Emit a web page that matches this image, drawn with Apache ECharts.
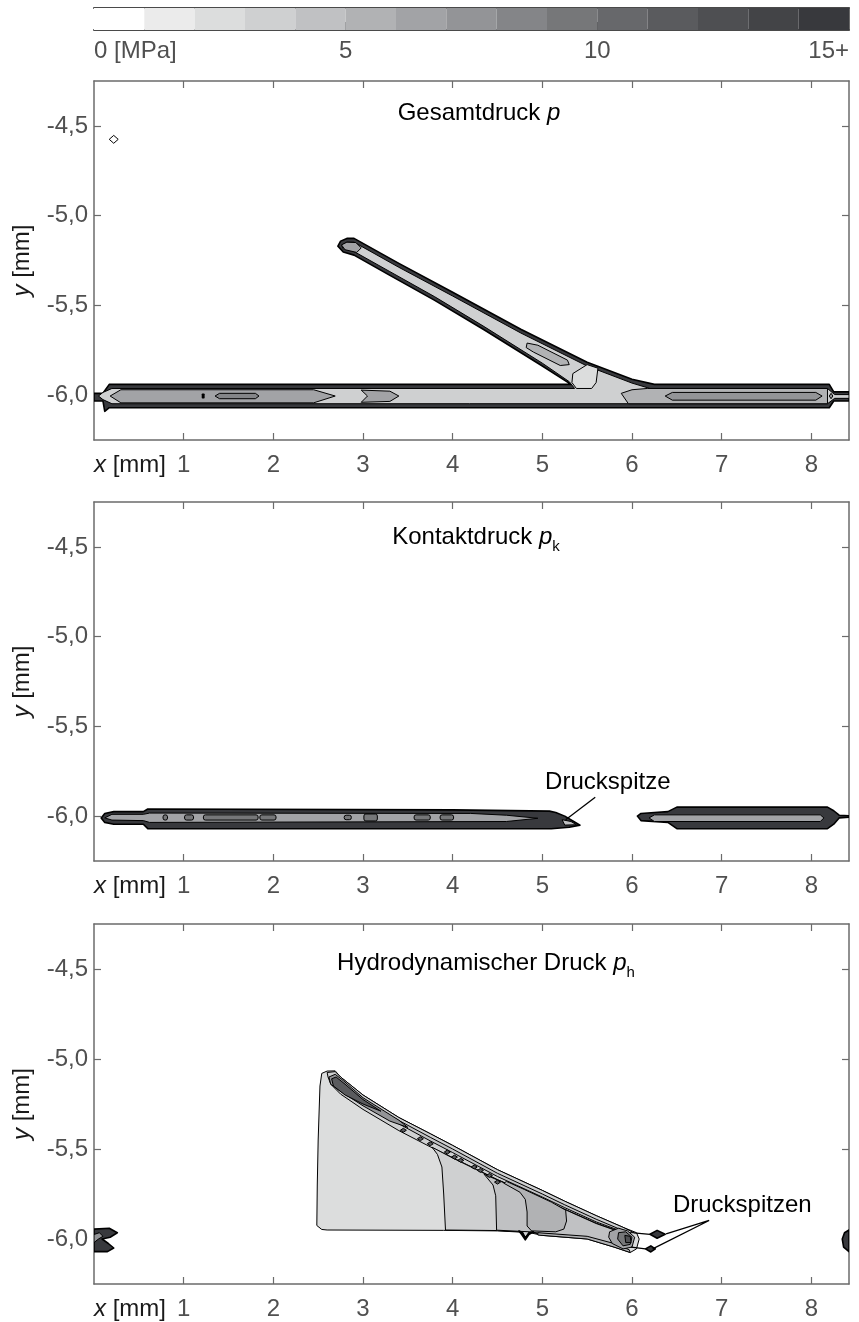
<!DOCTYPE html>
<html>
<head>
<meta charset="utf-8">
<script src="https://cdn.jsdelivr.net/npm/echarts@6/dist/echarts.min.js"></script>
<style>
  html, body { margin: 0; padding: 0; background: #fff; }
  #chart { width: 859px; height: 1322px; }
</style>
</head>
<body>
<div id="chart"></div>
<script>
// grey scale of the colour bar, one step per MPa (0 ... 15+)
var greys = ['#ffffff', '#ebebeb', '#dcdddd', '#cfd0d1', '#c0c1c3', '#b1b2b4', '#a2a3a6', '#939497',
             '#848588', '#767779', '#67686b', '#5a5b5e', '#4e4f52', '#434447', '#38393d'];
var cbTicks = [0, 5, 10, 15];
var xTicks = [0, 1, 2, 3, 4, 5, 6, 7, 8];
var yTicks = [-6, -5.5, -5, -4.5];

// ---- Gesamtdruck p (contour outlines in mm, level = MPa step)
var p1Dot = [[0.17, -4.575], [0.22, -4.553], [0.27, -4.575], [0.22, -4.597]];
var p1Rim = [[0.0, -5.99], [0.1, -5.99], [0.17, -5.94], [5.32, -5.94], [5.0, -5.838], [4.35, -5.636],
  [3.8, -5.472], [3.3, -5.333], [2.9, -5.22], [2.78, -5.203], [2.72, -5.17], [2.75, -5.142], [2.82, -5.127],
  [2.9, -5.127], [3.4, -5.266], [4.0, -5.427], [4.76, -5.633], [5.5, -5.817], [6.0, -5.912], [6.25, -5.94],
  [8.2, -5.94], [8.25, -5.982], [8.42, -5.982], [8.42, -6.033], [8.25, -6.033], [8.2, -6.07],
  [0.17, -6.07], [0.12, -6.09], [0.1, -6.033], [0.0, -6.033]];
var p1Inner = [[0.05, -6.005], [0.1, -5.985], [0.2, -5.963], [5.36, -5.963], [5.3, -5.925], [5.0, -5.822],
  [4.35, -5.618], [3.8, -5.452], [3.3, -5.312], [2.9, -5.2], [2.78, -5.185], [2.76, -5.165], [2.82, -5.148],
  [2.9, -5.148], [3.4, -5.288], [4.0, -5.448], [4.76, -5.654], [5.5, -5.838], [6.0, -5.933], [6.2, -5.963],
  [8.18, -5.963], [8.26, -5.997], [8.42, -5.997], [8.42, -6.018], [8.26, -6.018], [8.18, -6.048],
  [0.2, -6.048], [0.1, -6.025]];
var p1Left = [[0.18, -6.005], [0.3, -5.97], [2.45, -5.97], [2.69, -6.005], [2.45, -6.043], [0.3, -6.043]];
var p1Tick = [[1.21, -5.995], [1.225, -5.995], [1.225, -6.015], [1.21, -6.015]];
var p1Oval = [[1.35, -6.005], [1.4, -5.99], [1.8, -5.99], [1.84, -6.005], [1.8, -6.02], [1.4, -6.02]];
var p1Mid = [[2.98, -5.972], [3.3, -5.978], [3.4, -6.005], [3.3, -6.035], [2.98, -6.04], [3.05, -6.005]];
var p1Right = [[6.17, -5.963], [8.18, -5.963], [8.18, -6.048], [5.96, -6.048], [5.88, -5.99], [6.0, -5.97]];
var p1RightCore = [[6.37, -6.005], [6.45, -5.985], [8.05, -5.985], [8.12, -6.005], [8.05, -6.028], [6.45, -6.028]];
var p1EndDot = [[8.2, -6.005], [8.22, -5.99], [8.24, -6.005], [8.22, -6.02]];
var p1Tip = [[2.76, -5.163], [2.82, -5.148], [2.92, -5.15], [2.98, -5.18], [2.93, -5.205], [2.8, -5.19]];
var p1BranchMid = [[4.83, -5.71], [4.95, -5.722], [5.28, -5.805], [5.3, -5.83], [5.2, -5.835], [4.9, -5.76], [4.82, -5.735]];
var p1Joint = [[5.34, -5.88], [5.5, -5.83], [5.62, -5.85], [5.6, -5.93], [5.55, -5.963], [5.38, -5.963], [5.33, -5.93]];
var p1Layers = [[p1Dot, 0], [p1Rim, 14], [p1Inner, 3], [p1Left, 6], [p1Tick, 13], [p1Oval, 8], [p1Mid, 6],
  [p1Right, 5], [p1RightCore, 7], [p1EndDot, 7], [p1Tip, 6], [p1BranchMid, 5], [p1Joint, 2]];

// ---- Kontaktdruck p_k
var p2LeftRim = [[0.08, -6.01], [0.12, -5.985], [0.22, -5.975], [0.55, -5.975], [0.6, -5.96], [4.0, -5.965],
  [5.08, -5.972], [5.15, -5.98], [5.25, -6.0], [5.35, -6.03], [5.42, -6.05], [5.3, -6.062], [5.1, -6.07],
  [0.6, -6.07], [0.55, -6.045], [0.22, -6.045], [0.12, -6.035]];
var p2LeftIn = [[0.12, -6.01], [0.2, -5.99], [0.55, -5.99], [0.62, -5.983], [4.2, -5.985], [4.6, -5.995],
  [4.95, -6.012], [4.6, -6.03], [0.62, -6.035], [0.55, -6.025], [0.2, -6.022]];
var p2Peak = [[5.22, -6.02], [5.32, -6.03], [5.38, -6.048], [5.25, -6.05]];
var p2RightRim = [[6.06, -6.0], [6.1, -5.985], [6.4, -5.975], [6.5, -5.95], [8.18, -5.95], [8.25, -5.97],
  [8.31, -5.995], [8.42, -5.998], [8.42, -6.006], [8.31, -6.01], [8.25, -6.045], [8.18, -6.07],
  [6.5, -6.07], [6.4, -6.035], [6.1, -6.025]];
var p2RightIn = [[6.19, -6.01], [6.25, -5.993], [8.1, -5.993], [8.14, -6.01], [8.1, -6.03], [6.25, -6.03]];
var p2Layers = [[p2LeftRim, 14], [p2LeftIn, 6], [p2Peak, 4], [p2RightRim, 14], [p2RightIn, 6]];
// islands of higher contact pressure: [x0, x1, yTop, yBottom]
var p2Islands = [[0.77, 0.82, -5.993, -6.022], [1.01, 1.11, -5.993, -6.022], [1.22, 1.83, -5.993, -6.022],
  [1.85, 2.03, -5.993, -6.022], [2.79, 2.87, -5.995, -6.02], [3.01, 3.16, -5.988, -6.027],
  [3.57, 3.75, -5.993, -6.022], [3.86, 4.01, -5.993, -6.022]];
var p2Label = [5.73, -5.81];
var p2Arrow = [[5.59, -5.895], [5.26, -6.02]];

// ---- Hydrodynamischer Druck p_h
var p3Outer = [[2.54, -5.08], [2.6, -5.067], [2.69, -5.066], [2.75, -5.1], [3.0, -5.2], [3.4, -5.325],
  [3.75, -5.415], [4.0, -5.48], [4.5, -5.615], [5.0, -5.73], [5.25, -5.79], [5.6, -5.87], [5.9, -5.935],
  [6.05, -5.965], [6.08, -6.0], [6.05, -6.055], [5.98, -6.075], [5.8, -6.045], [5.5, -6.0], [5.0, -5.98],
  [4.86, -5.965], [4.81, -5.995], [4.77, -5.962], [4.5, -5.955], [3.9, -5.952], [2.6, -5.95],
  [2.54, -5.947], [2.485, -5.925], [2.49, -5.7], [2.5, -5.45], [2.52, -5.15]];
var p3Rim = [[2.6, -5.075], [2.69, -5.07], [2.75, -5.1], [3.0, -5.2], [3.4, -5.325], [3.75, -5.415],
  [4.0, -5.48], [4.5, -5.615], [5.0, -5.73], [5.25, -5.79], [5.6, -5.87], [5.9, -5.935], [6.02, -5.965],
  [5.9, -5.965], [5.6, -5.912], [5.25, -5.835], [5.0, -5.778], [4.5, -5.67], [4.0, -5.548], [3.75, -5.488],
  [3.4, -5.398], [3.0, -5.28], [2.75, -5.195], [2.64, -5.14], [2.61, -5.1]];
var p3Band3 = [[3.77, -5.49], [4.0, -5.55], [4.5, -5.672], [5.0, -5.78], [5.25, -5.836], [5.6, -5.914],
  [5.9, -5.967], [6.0, -6.0], [5.95, -6.05], [5.8, -6.035], [5.5, -5.995], [5.0, -5.975], [4.86, -5.962],
  [4.81, -5.99], [4.77, -5.96], [4.5, -5.953], [3.92, -5.95], [3.9, -5.75], [3.88, -5.6], [3.83, -5.53]];
var p3Band4 = [[4.35, -5.64], [4.5, -5.672], [5.0, -5.78], [5.25, -5.836], [5.6, -5.914], [5.9, -5.967],
  [5.98, -5.995], [5.95, -6.045], [5.8, -6.03], [5.5, -5.99], [5.0, -5.97], [4.86, -5.96], [4.49, -5.951],
  [4.48, -5.76], [4.45, -5.7]];
var p3Band5 = [[4.57, -5.69], [4.75, -5.74], [4.81, -5.78], [4.83, -5.85], [4.83, -5.928], [4.88, -5.955],
  [5.15, -5.96], [5.24, -5.945], [5.27, -5.9], [5.26, -5.84], [5.1, -5.795], [4.8, -5.725], [4.6, -5.68]];
var p3RimLine = [[3.3, -5.315], [3.75, -5.435], [4.0, -5.5], [4.5, -5.635], [5.0, -5.75], [5.25, -5.81],
  [5.6, -5.89], [5.9, -5.953], [5.9, -5.96], [5.6, -5.905], [5.25, -5.826], [5.0, -5.767], [4.5, -5.653],
  [4.0, -5.52], [3.75, -5.455], [3.3, -5.333]];
var p3Dark1 = [[2.62, -5.1], [2.69, -5.085], [2.78, -5.12], [3.0, -5.215], [3.4, -5.34], [3.5, -5.38],
  [3.3, -5.345], [3.0, -5.26], [2.75, -5.18], [2.64, -5.14]];
var p3Dark2 = [[2.65, -5.11], [2.7, -5.1], [2.8, -5.14], [3.0, -5.225], [3.2, -5.29], [3.0, -5.25],
  [2.8, -5.2], [2.67, -5.15]];
var p3Bottom = [[4.95, -5.965], [5.5, -5.985], [5.8, -6.025], [5.97, -6.06], [5.98, -6.075], [5.8, -6.045],
  [5.5, -6.0], [4.95, -5.978]];
var p3TipA = [[5.75, -5.96], [5.85, -5.94], [5.95, -5.955], [6.03, -5.99], [6.0, -6.045], [5.9, -6.055],
  [5.78, -6.025], [5.74, -5.99]];
var p3TipB = [[5.85, -5.965], [5.93, -5.96], [6.0, -5.99], [5.98, -6.03], [5.9, -6.038], [5.84, -6.0]];
var p3TipC = [[5.92, -5.98], [5.98, -5.985], [5.99, -6.02], [5.93, -6.02]];
var p3Notch = [[4.74, -5.955], [4.78, -5.965], [4.81, -5.995], [4.85, -5.965], [4.9, -5.96], [4.85, -5.975],
  [4.81, -6.005], [4.77, -5.975]];
var p3Peak1 = [[6.2, -5.974], [6.28, -5.952], [6.37, -5.974], [6.28, -5.996]];
var p3Peak2 = [[6.15, -6.055], [6.21, -6.038], [6.26, -6.055], [6.21, -6.072]];
var p3LeftBlob = [[0, -5.945], [0.17, -5.94], [0.26, -5.965], [0.18, -5.99], [0.09, -6.0], [0.16, -6.025],
  [0.22, -6.05], [0.15, -6.07], [0, -6.07]];
var p3LeftCore = [[0, -5.975], [0.06, -5.965], [0.1, -5.985], [0.05, -6.0], [0, -6.02]];
var p3RightBlob = [[8.42, -5.95], [8.37, -5.965], [8.345, -6.0], [8.36, -6.045], [8.42, -6.07]];
var p3Layers = [[p3Outer, 2], [p3Rim, 3], [p3Band3, 3], [p3Band4, 4], [p3Band5, 5], [p3RimLine, 4],
  [p3Dark1, 7], [p3Dark2, 11], [p3Bottom, 5], [p3TipA, 6], [p3TipB, 9], [p3TipC, 12], [p3Notch, 13],
  [p3Peak1, 14], [p3Peak2, 14], [p3LeftBlob, 14], [p3LeftCore, 7], [p3RightBlob, 14]];
// small pressure islands along the upper edge
var p3Dots = [[3.45, -5.396], [3.64, -5.443], [3.75, -5.471], [3.94, -5.517], [4.02, -5.545], [4.09, -5.563],
  [4.24, -5.6], [4.31, -5.619], [4.41, -5.647], [4.5, -5.684]];
var p3Links = [[[6.02, -5.966], [6.2, -5.974]], [[5.99, -6.045], [6.15, -6.055]]];
var p3Label = [7.23, -5.814];
var p3Arrows = [[6.38, -5.972], [6.86, -5.897], [6.23, -6.055]];

var FONT = '"Liberation Sans", Arial, Helvetica, sans-serif';
var TXT = '#505050';
var FRAME = '#6b6b6b';
var PANELS = [{ top: 81, h: 359 }, { top: 502, h: 359 }, { top: 924, h: 360 }];

var grids = [], xAxes = [], yAxes = [], series = [];

// colour bar
grids.push({ left: 94, top: 8, width: 755, height: 22 });
xAxes.push({
  gridIndex: 0, type: 'value', min: 0, max: 15, position: 'bottom',
  axisLine: { onZero: false, lineStyle: { color: '#4a4a4a', width: 2 } },
  axisTick: { inside: true, length: 8, customValues: [5, 10], lineStyle: { color: '#4a4a4a', width: 1 } },
  axisLabel: {
    customValues: cbTicks, color: TXT, fontSize: 24, fontFamily: FONT, margin: 9,
    alignMinLabel: 'left', alignMaxLabel: 'right',
    formatter: function (v) { return v === 0 ? '0 [MPa]' : v === 15 ? '15+' : String(v); }
  },
  splitLine: { show: false }
});
xAxes.push({
  gridIndex: 0, type: 'value', min: 0, max: 15, position: 'top',
  axisLine: { onZero: false, lineStyle: { color: '#4a4a4a', width: 2 } },
  axisTick: { show: false }, axisLabel: { show: false }, splitLine: { show: false }
});
['left', 'right'].forEach(function (pos) {
  yAxes.push({
    gridIndex: 0, type: 'value', min: 0, max: 1, position: pos,
    axisLine: { show: true, onZero: false, lineStyle: { color: '#6a6a6a', width: 1 } },
    axisTick: { show: false }, axisLabel: { show: false }, splitLine: { show: false }
  });
});
series.push({
  type: 'custom', xAxisIndex: 0, yAxisIndex: 0, silent: true,
  data: greys.map(function (c, i) { return [i, i + 1]; }),
  renderItem: function (params, api) {
    var a = api.coord([api.value(0), 1]), b = api.coord([api.value(1), 0]);
    return { type: 'rect', shape: { x: a[0], y: a[1], width: b[0] - a[0], height: b[1] - a[1] },
      style: { fill: greys[params.dataIndex] } };
  }
});

// three contour panels
PANELS.forEach(function (p, k) {
  var g = k + 1;
  grids.push({ left: 94, top: p.top, width: 755, height: p.h });
  var tick = { inside: true, length: 7, lineStyle: { color: FRAME, width: 1.2 } };
  var line = { onZero: false, lineStyle: { color: FRAME, width: 1.5 } };
  xAxes.push({
    gridIndex: g, type: 'value', min: 0, max: 8.42, position: 'bottom',
    axisLine: line, axisTick: Object.assign({ customValues: xTicks.slice(1) }, tick),
    axisLabel: {
      customValues: xTicks, color: TXT, fontSize: 24, fontFamily: FONT, margin: 13, alignMinLabel: 'left',
      formatter: function (v) { return v === 0 ? '{i|x}{n| [mm]}' : String(v); },
      rich: {
        i: { fontStyle: 'italic', color: '#1a1a1a', fontSize: 24, fontFamily: FONT },
        n: { color: '#1a1a1a', fontSize: 24, fontFamily: FONT }
      }
    },
    splitLine: { show: false }
  });
  xAxes.push({
    gridIndex: g, type: 'value', min: 0, max: 8.42, position: 'top',
    axisLine: line, axisTick: Object.assign({ customValues: xTicks.slice(1) }, tick),
    axisLabel: { show: false }, splitLine: { show: false }
  });
  yAxes.push({
    gridIndex: g, type: 'value', min: -6.25, max: -4.25, position: 'left',
    axisLine: Object.assign({ show: true }, line), axisTick: Object.assign({ customValues: yTicks }, tick),
    axisLabel: {
      customValues: yTicks, color: TXT, fontSize: 24, fontFamily: FONT, margin: 6,
      formatter: function (v) { return v.toFixed(1).replace('.', ','); }
    },
    name: '{i|y}{n| [mm]}', nameLocation: 'middle', nameRotate: 90, nameGap: 60,
    nameTextStyle: {
      rich: {
        i: { fontStyle: 'italic', color: '#1a1a1a', fontSize: 24, fontFamily: FONT },
        n: { color: '#1a1a1a', fontSize: 24, fontFamily: FONT }
      }
    },
    splitLine: { show: false }
  });
  yAxes.push({
    gridIndex: g, type: 'value', min: -6.25, max: -4.25, position: 'right',
    axisLine: Object.assign({ show: true }, line), axisTick: Object.assign({ customValues: yTicks }, tick),
    axisLabel: { show: false }, splitLine: { show: false }
  });
});

function axisIdx(k) { return 2 * (k + 1); }

// filled contour polygons; the densest levels get a heavier outline (packed isolines)
function polySeries(k, layers) {
  return {
    type: 'custom', xAxisIndex: axisIdx(k), yAxisIndex: axisIdx(k), silent: true, clip: true,
    data: layers.map(function (L, i) { return [i]; }),
    renderItem: function (params, api) {
      var L = layers[params.dataIndex];
      return { type: 'polygon', shape: { points: L[0].map(function (pt) { return api.coord(pt); }) },
        style: { fill: greys[L[1]], stroke: '#000', lineWidth: L[1] >= 13 ? 1.6 : 1, lineJoin: 'round' } };
    }
  };
}

function lineSeries(k, pts) {
  return {
    type: 'line', xAxisIndex: axisIdx(k), yAxisIndex: axisIdx(k), silent: true,
    data: pts, symbol: 'none', lineStyle: { color: '#000', width: 1.3 }, z: 5
  };
}

function textSeries(k, at, text) {
  return {
    type: 'custom', xAxisIndex: axisIdx(k), yAxisIndex: axisIdx(k), silent: true, z: 6,
    data: [at],
    renderItem: function (params, api) {
      var c = api.coord([api.value(0), api.value(1)]);
      return { type: 'text', x: c[0], y: c[1],
        style: { text: text, fill: '#000', font: '24px ' + FONT, align: 'center', verticalAlign: 'middle' } };
    }
  };
}

// panel 1
series.push(polySeries(0, p1Layers));
// panel 2
series.push(polySeries(1, p2Layers));
series.push({
  type: 'custom', xAxisIndex: axisIdx(1), yAxisIndex: axisIdx(1), silent: true,
  data: p2Islands,
  renderItem: function (params, api) {
    var a = api.coord([api.value(0), api.value(2)]), b = api.coord([api.value(1), api.value(3)]);
    return { type: 'rect', shape: { x: a[0], y: a[1], width: b[0] - a[0], height: b[1] - a[1], r: 2 },
      style: { fill: greys[9], stroke: '#000', lineWidth: 1 } };
  }
});
series.push(lineSeries(1, p2Arrow));
series.push(textSeries(1, p2Label, 'Druckspitze'));
// panel 3
series.push(polySeries(2, p3Layers));
series.push({
  type: 'custom', xAxisIndex: axisIdx(2), yAxisIndex: axisIdx(2), silent: true,
  data: p3Dots,
  renderItem: function (params, api) {
    var c = api.coord([api.value(0), api.value(1)]);
    return { type: 'polygon', shape: { points: [[c[0] - 3, c[1]], [c[0], c[1] - 2], [c[0] + 3, c[1]], [c[0], c[1] + 2]] },
      style: { fill: greys[11], stroke: '#000', lineWidth: 1 } };
  }
});
p3Links.forEach(function (l) { series.push(lineSeries(2, l)); });
series.push(lineSeries(2, p3Arrows));
series.push(textSeries(2, p3Label, 'Druckspitzen'));

var titleRich = {
  n: { fontSize: 24, fontFamily: FONT, fill: '#000', lineHeight: 34, verticalAlign: 'middle' },
  i: { fontSize: 24, fontFamily: FONT, fontStyle: 'italic', fill: '#000', lineHeight: 34, verticalAlign: 'middle' },
  s: { fontSize: 15, fontFamily: FONT, fill: '#000', lineHeight: 34, verticalAlign: 'bottom' }
};
function title(x, y, text) {
  return { type: 'text', x: x, y: y, silent: true,
    style: { text: text, rich: titleRich, align: 'center', verticalAlign: 'middle' } };
}

var chart = echarts.init(document.getElementById('chart'), null, { renderer: 'canvas' });
chart.setOption({
  animation: false,
  backgroundColor: '#fff',
  grid: grids,
  xAxis: xAxes,
  yAxis: yAxes,
  series: series,
  graphic: [
    title(479, 113, '{n|Gesamtdruck }{i|p}'),
    title(476, 537, '{n|Kontaktdruck }{i|p}{s|k}'),
    title(486, 963, '{n|Hydrodynamischer Druck }{i|p}{s|h}')
  ]
});
</script>
</body>
</html>
